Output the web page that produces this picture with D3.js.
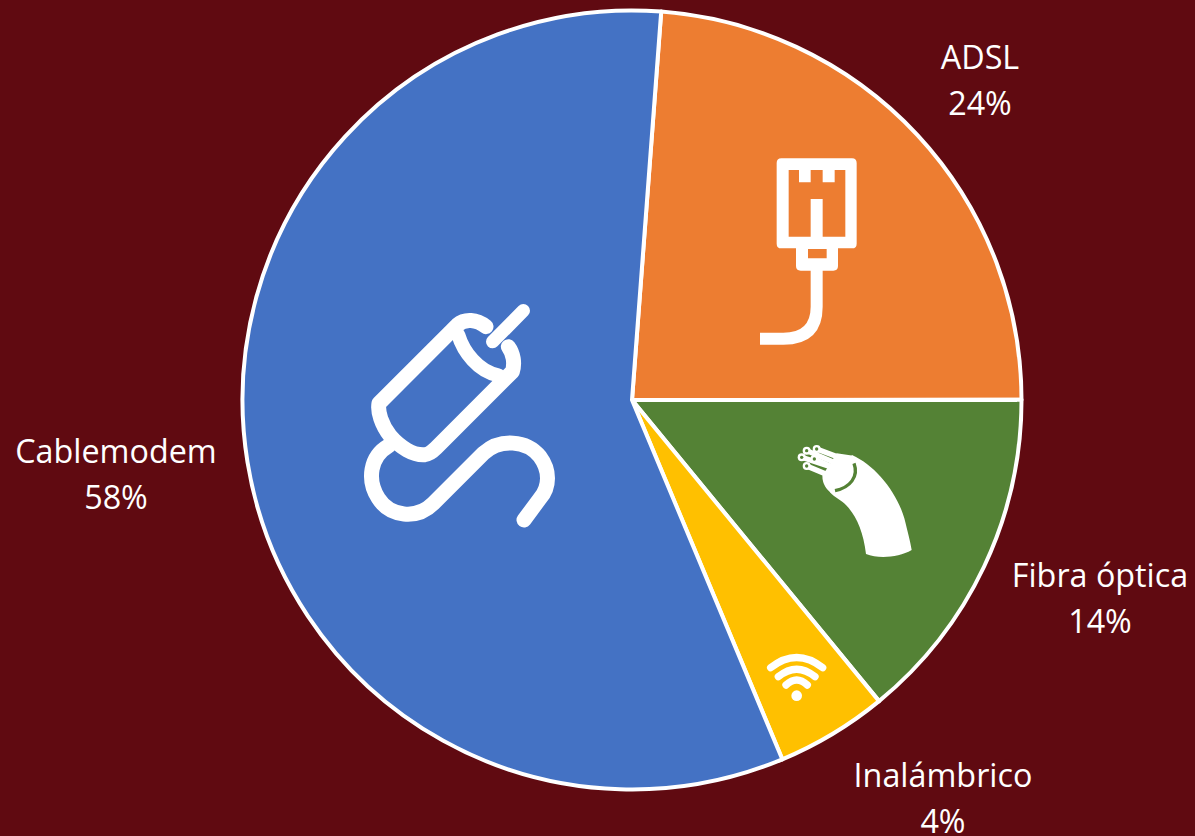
<!DOCTYPE html>
<html><head><meta charset="utf-8">
<script src="https://cdn.jsdelivr.net/npm/d3@7"></script>
<style>html,body{margin:0;padding:0;background:#600a11;overflow:hidden}svg{display:block}</style>
</head><body><svg id="c" width="1195" height="836"></svg>
<script>
const categories = ["ADSL","Fibra óptica","Inalámbrico","Cablemodem"];
const shares = [23.8,14.07,4.63,57.5];
const shareLabels = ["24%","14%","4%","58%"];
const colors = ["#ed7d31","#548235","#ffc000","#4472c4"];
const labelAnchors = [[980,69],[1100,587],[943,787],[116,463]];

const svg = d3.select("#c");
const W=1195,H=836,cx=632,cy=400,R=389.5;
svg.append("rect").attr("width",W).attr("height",H).attr("fill","#600a11");
const start = 4.3*Math.PI/180;
const pie = d3.pie().sort(null).startAngle(start).endAngle(start+2*Math.PI)(shares);
const arc = d3.arc().innerRadius(0).outerRadius(R);
const g = svg.append("g").attr("transform",`translate(${cx},${cy})`);
g.selectAll("path").data(pie).join("path").attr("d",arc)
 .attr("fill",(d,i)=>colors[i]).attr("stroke","#fff").attr("stroke-width",4).attr("stroke-linejoin","round");

const T = svg.append("g").attr("font-family","'Open Sans', sans-serif").attr("font-size",32.3).attr("fill","#fff").attr("text-anchor","middle");
categories.forEach((c,i)=>{
  T.append("text").attr("x",labelAnchors[i][0]).attr("y",labelAnchors[i][1]).text(c);
  T.append("text").attr("x",labelAnchors[i][0]).attr("y",labelAnchors[i][1]+45.5).text(shareLabels[i]);
});

function icon(x,y){return svg.append("g").attr("transform",`translate(${x},${y}) scale(${1/3})`);}
// ADSL connector
const a = icon(740,140);
a.append("path").attr("fill","#fff").attr("fill-rule","evenodd").attr("d",
 "M124,55H336Q350,55 350,69V311Q350,325 336,325H294V378Q294,392 280,392H248V500Q248,614 130,614H60V578H130Q212,578 212,500V392H182Q168,392 168,378V325H124Q110,325 110,311V69Q110,55 124,55Z"+
 "M146,90V290H212V177H248V290H316V90H284V127H248V90H212V127H177V90Z"+
 "M204,327V355H260V327Z");
// Coax cable
const b = icon(350,290);
const st = (p,w)=>p.attr("fill","none").attr("stroke","#fff").attr("stroke-width",w).attr("stroke-linecap","round").attr("stroke-linejoin","round");
st(b.append("path").attr("d","M408,110C380,88 345,85 322,105L87,340C82,365 95,405 120,437C150,472 190,497 225,494C240,492 250,482 258,474L487,245C495,220 490,190 475,170"),45);
st(b.append("path").attr("d","M325,135C340,185 385,245 445,256"),42);
st(b.append("path").attr("d","M428,155L520,62"),40);
st(b.append("path").attr("d","M115,468C60,500 50,570 85,625C120,680 200,690 250,640L400,490C450,445 530,450 570,500C600,540 600,590 570,625L522,690"),45);
// Fibre
const f = icon(785,435);
f.append("path").attr("fill","#fff").attr("d","M130,150C170,165 205,100 200,60C270,90 335,170 358,250C368,290 376,320 380,345C340,368 280,372 243,357C235,290 215,245 185,212C170,195 150,190 135,172Z");
f.append("path").attr("fill","#fff").attr("d","M155,55L205,62C222,110 195,155 145,178C125,165 112,148 112,122Z");
f.append("path").attr("fill","none").attr("stroke","#548235").attr("stroke-width",10).attr("d","M207,85C222,125 195,158 150,167");
const fibreEnds=[[95,42],[65,47],[50,67],[88,72],[65,93]];
const fibreRoots=[[165,68],[155,85],[150,100],[160,105],[135,122]];
fibreEnds.forEach((e,i)=>{
  st(f.append("line").attr("x1",e[0]).attr("y1",e[1]).attr("x2",fibreRoots[i][0]).attr("y2",fibreRoots[i][1]),16);
  f.append("circle").attr("cx",e[0]).attr("cy",e[1]).attr("r",12).attr("fill","#fff");
  f.append("circle").attr("cx",e[0]).attr("cy",e[1]).attr("r",5).attr("fill","#548235");
});
// Wifi
const w = icon(750,640);
["M62,83Q140,22 218,83","M85,110Q140,65 195,110","M108,135Q140,105 172,135"].forEach(d=>st(w.append("path").attr("d",d),22));
w.append("circle").attr("cx",140).attr("cy",167).attr("r",16).attr("fill","#fff");
</script></body></html>
